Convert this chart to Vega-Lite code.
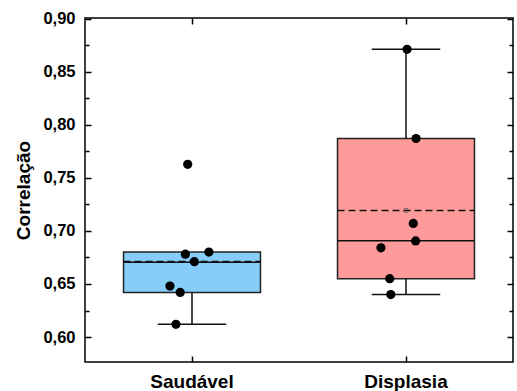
{
  "$schema": "https://vega.github.io/schema/vega-lite/v6.json",
  "width": 428,
  "height": 344,
  "autosize": {"type": "none"},
  "padding": {"left": 85, "top": 18, "right": 4, "bottom": 29},
  "background": "white",
  "config": {
    "view": {"stroke": "black", "strokeWidth": 1.5},
    "font": "Liberation Sans"
  },
  "datasets": {
    "summary": [
      {"group": "Saudável", "low": 0.612, "q1": 0.642, "median": 0.6705, "mean": 0.6712, "q3": 0.680, "high": 0.680},
      {"group": "Displasia", "low": 0.640, "q1": 0.6548, "median": 0.6908, "mean": 0.7193, "q3": 0.787, "high": 0.871}
    ],
    "points": [
      {"group": "Saudável", "value": 0.7627, "jitter": -0.020},
      {"group": "Saudável", "value": 0.678, "jitter": -0.031},
      {"group": "Saudável", "value": 0.680, "jitter": 0.079},
      {"group": "Saudável", "value": 0.671, "jitter": 0.011},
      {"group": "Saudável", "value": 0.648, "jitter": -0.103},
      {"group": "Saudável", "value": 0.642, "jitter": -0.055},
      {"group": "Saudável", "value": 0.612, "jitter": -0.075},
      {"group": "Displasia", "value": 0.871, "jitter": 0.005},
      {"group": "Displasia", "value": 0.787, "jitter": 0.047},
      {"group": "Displasia", "value": 0.707, "jitter": 0.034},
      {"group": "Displasia", "value": 0.6905, "jitter": 0.045},
      {"group": "Displasia", "value": 0.684, "jitter": -0.117},
      {"group": "Displasia", "value": 0.655, "jitter": -0.076},
      {"group": "Displasia", "value": 0.640, "jitter": -0.071}
    ]
  },
  "resolve": {"axis": {"x": "independent", "y": "independent"}},
  "layer": [
    {
      "data": {"name": "summary"},
      "mark": {"type": "rect", "stroke": "#222222", "strokeWidth": 1.5},
      "encoding": {
        "x": {"field": "group", "type": "nominal", "sort": ["Saudável", "Displasia"], "bandPosition": 0.18,
          "scale": {"type": "band", "paddingInner": 0, "paddingOuter": 0},
          "axis": {"orient": "bottom", "title": null, "labelAngle": 0, "labelFont": "Liberation Sans", "labelFontWeight": "bold", "labelFontSize": 19, "labelColor": "black", "labelPadding": 10, "ticks": false, "domain": false}},
        "x2": {"field": "group", "bandPosition": 0.82},
        "y": {"field": "q1", "type": "quantitative",
          "scale": {"domain": [0.5765, 0.9005], "nice": false, "zero": false},
          "axis": {"orient": "left", "title": "Correlação", "titleFont": "Liberation Sans", "titleFontWeight": "bold", "titleFontSize": 19, "titleColor": "black", "titlePadding": 9,
            "values": [0.6, 0.65, 0.7, 0.75, 0.8, 0.85, 0.9],
            "labelExpr": "replace(format(datum.value, '.2f'), '.', ',')",
            "labelFont": "Liberation Sans", "labelFontWeight": "bold", "labelFontSize": 16.5, "labelColor": "black", "labelPadding": 10,
            "ticks": false, "domain": false, "grid": false}},
        "y2": {"field": "q3"},
        "color": {"field": "group", "type": "nominal", "legend": null,
          "scale": {"domain": ["Saudável", "Displasia"], "range": ["#86CDFA", "#FF9A9A"]}}
      }
    },
    {
      "data": {"name": "summary"},
      "mark": {"type": "rule", "color": "#111111", "strokeWidth": 1.5},
      "encoding": {
        "x": {"field": "group", "type": "nominal", "sort": ["Saudável", "Displasia"],
          "axis": {"orient": "top", "offset": -344, "title": null, "labels": false, "domain": false, "tickSize": 6, "tickColor": "black", "tickWidth": 1.5}},
        "y": {"field": "low", "type": "quantitative",
          "axis": {"orient": "right", "offset": -428, "title": null, "labels": false, "domain": false, "grid": false,
            "values": [0.6, 0.625, 0.65, 0.675, 0.7, 0.725, 0.75, 0.775, 0.8, 0.825, 0.85, 0.875, 0.9],
            "tickSize": {"condition": {"test": "round(datum.value*1000) % 50 == 0", "value": 6}, "value": 4},
            "tickColor": "black", "tickWidth": 1.5}},
        "y2": {"field": "q1"}
      }
    },
    {
      "data": {"name": "summary"},
      "mark": {"type": "rule", "color": "#111111", "strokeWidth": 1.5},
      "encoding": {
        "x": {"field": "group", "type": "nominal", "sort": ["Saudável", "Displasia"],
          "axis": {"orient": "bottom", "offset": -344, "title": null, "labels": false, "domain": false, "tickSize": 6, "tickColor": "black", "tickWidth": 1.5}},
        "y": {"field": "q3", "type": "quantitative",
          "axis": {"orient": "left", "offset": -428, "title": null, "labels": false, "domain": false, "grid": false,
            "values": [0.6, 0.625, 0.65, 0.675, 0.7, 0.725, 0.75, 0.775, 0.8, 0.825, 0.85, 0.875, 0.9],
            "tickSize": {"condition": {"test": "round(datum.value*1000) % 50 == 0", "value": 6}, "value": 4},
            "tickColor": "black", "tickWidth": 1.5}},
        "y2": {"field": "high"}
      }
    },
    {
      "data": {"name": "summary"},
      "mark": {"type": "rule", "color": "#111111", "strokeWidth": 1.5},
      "encoding": {
        "x": {"field": "group", "type": "nominal", "sort": ["Saudável", "Displasia"], "bandPosition": 0.34, "axis": null},
        "x2": {"field": "group", "bandPosition": 0.66},
        "y": {"field": "low", "type": "quantitative", "axis": null}
      }
    },
    {
      "data": {"name": "summary"},
      "transform": [{"filter": "datum.high > datum.q3"}],
      "mark": {"type": "rule", "color": "#111111", "strokeWidth": 1.5},
      "encoding": {
        "x": {"field": "group", "type": "nominal", "sort": ["Saudável", "Displasia"], "bandPosition": 0.34, "axis": null},
        "x2": {"field": "group", "bandPosition": 0.66},
        "y": {"field": "high", "type": "quantitative", "axis": null}
      }
    },
    {
      "data": {"name": "summary"},
      "mark": {"type": "rule", "color": "#111111", "strokeWidth": 1.5},
      "encoding": {
        "x": {"field": "group", "type": "nominal", "sort": ["Saudável", "Displasia"], "bandPosition": 0.18, "axis": null},
        "x2": {"field": "group", "bandPosition": 0.82},
        "y": {"field": "median", "type": "quantitative", "axis": null}
      }
    },
    {
      "data": {"name": "summary"},
      "mark": {"type": "rule", "color": "#111111", "strokeWidth": 1.5, "strokeDash": [7, 4]},
      "encoding": {
        "x": {"field": "group", "type": "nominal", "sort": ["Saudável", "Displasia"], "bandPosition": 0.18, "axis": null},
        "x2": {"field": "group", "bandPosition": 0.82},
        "y": {"field": "mean", "type": "quantitative", "axis": null}
      }
    },
    {
      "data": {"name": "summary"},
      "mark": {"type": "point", "shape": "square", "size": 14, "filled": false, "color": "#444444", "strokeWidth": 0.8},
      "encoding": {
        "x": {"field": "group", "type": "nominal", "sort": ["Saudável", "Displasia"], "axis": null},
        "y": {"field": "mean", "type": "quantitative", "axis": null}
      }
    },
    {
      "data": {"name": "points"},
      "mark": {"type": "circle", "size": 85, "color": "black", "opacity": 1},
      "encoding": {
        "x": {"field": "group", "type": "nominal", "sort": ["Saudável", "Displasia"], "axis": null},
        "xOffset": {"field": "jitter", "type": "quantitative", "scale": {"domain": [-0.5, 0.5]}},
        "y": {"field": "value", "type": "quantitative", "axis": null}
      }
    }
  ]
}
